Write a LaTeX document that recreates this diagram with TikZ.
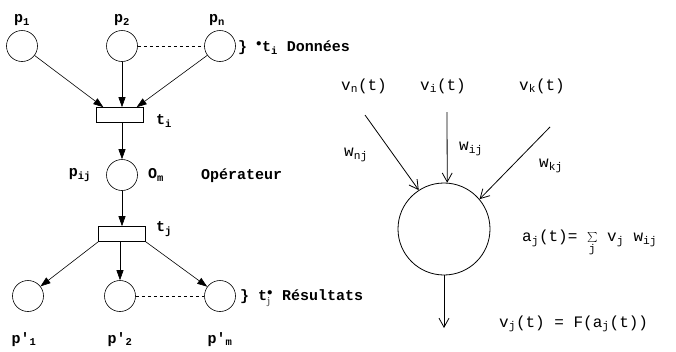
\documentclass[tikz,border=0pt]{standalone}
\usepackage{fontspec}
\setmonofont{Liberation Mono}
\usetikzlibrary{positioning, arrows.meta, calc}

\begin{document}
\begin{tikzpicture}[x=1pt, y=-1pt, every node/.style={font=\ttfamily\fontsize{16}{19}\selectfont, inner sep=1pt},
  lft/.style={font=\ttfamily\bfseries\fontsize{15}{18}\selectfont},
  place/.style={draw, circle, minimum size=31pt, inner sep=0pt, semithick},
  trans/.style={draw, rectangle, minimum width=47pt, minimum height=15pt, inner sep=0pt, semithick},
  pnarc/.style={-{Triangle[length=10pt,width=7pt]}, semithick},
  nnarc/.style={-{Straight Barb[length=9pt,width=10pt]}, thick}]
\useasboundingbox (0,0) rectangle (676,351);
% reseau de Petri
\node[place] (p1) at (22,46) {};
\node[place] (p2) at (122,46) {};
\node[place] (pm) at (220,46) {};
\node[lft, above=3pt of p1] {p\textsubscript{1}};
\node[lft, above=3pt of p2] {p\textsubscript{2}};
\node[lft, above=3pt of pm, xshift=-3pt] {p\textsubscript{n}};
\draw[dashed, semithick] (p2) -- (pm);
\node[lft, anchor=west] (don) at (237,48) {\} $^\bullet$t\textsubscript{i} Données};
\node[trans] (ti) at (120,115) {};
\node[lft, anchor=west] at (155,121) {t\textsubscript{i}};
\draw[pnarc] (p1) -- ($(ti.north west)!0.3!(ti.north)$);
\draw[pnarc] (p2) -- (p2 |- ti.north);
\draw[pnarc] (pm) -- ($(ti.north east)!0.3!(ti.north)$);
\node[place] (pij) at (122,175) {};
\node[lft, left=14pt of pij] {p\textsubscript{ij}};
\node[lft, right=9pt of pij] (om) {O\textsubscript{m}};
\node[lft, anchor=west] at (200,176) {Opérateur};
\draw[pnarc] (ti.south -| pij) -- (pij);
\node[trans] (tj) at (122,234) {};
\node[lft, anchor=west] at (155,229) {t\textsubscript{j}};
\draw[pnarc] (pij) -- (pij |- tj.north);
\node[place] (q1) at (28,296) {};
\node[place] (q2) at (120,296) {};
\node[place] (qm) at (220,296) {};
\node[lft, anchor=north] at (24,331) {p'\textsubscript{1}};
\node[lft, anchor=north] at (120,331) {p'\textsubscript{2}};
\node[lft, anchor=north] at (220,331) {p'\textsubscript{m}};
\draw[dashed, semithick] (q2) -- (qm);
\node[lft, anchor=west] (res) at (239,298) {\} t$^\bullet_{\mathrm{j}}$ Résultats};
\draw[pnarc] (tj.south west) -- (q1);
\draw[pnarc] (tj.south -| q2) -- (q2);
\draw[pnarc] (tj.south east) -- (qm);
% neurone
\node[draw, circle, minimum size=92pt, inner sep=0pt, thick] (nu) at (444,229) {};
\node (vn) at (364,86) {v\textsubscript{n}(t)};
\node (vi) at (443,86) {v\textsubscript{i}(t)};
\node (vk) at (542,86) {v\textsubscript{k}(t)};
\coordinate (cn) at (365,115);
\coordinate (ci) at (447,112);
\coordinate (ck) at (550,127);
\draw[nnarc] (cn) -- (nu.123);
\draw[nnarc] (ci) -- (nu.86);
\draw[nnarc] (ck) -- (nu.40);
\node[anchor=west] at (343,155) {w\textsubscript{nj}};
\node[anchor=west] at (458,149) {w\textsubscript{ij}};
\node[anchor=west] at (538,166) {w\textsubscript{kj}};
\coordinate (out) at (444,328);
\draw[nnarc] (nu) -- (out);
\node[anchor=west] at (521,243) {a\textsubscript{j}(t)= $\sum\limits_{\mathtt{j}}$ v\textsubscript{j} w\textsubscript{ij}};
\node[anchor=west] at (498,324) {v\textsubscript{j}(t) = F(a\textsubscript{j}(t))};
\end{tikzpicture}
\end{document}
